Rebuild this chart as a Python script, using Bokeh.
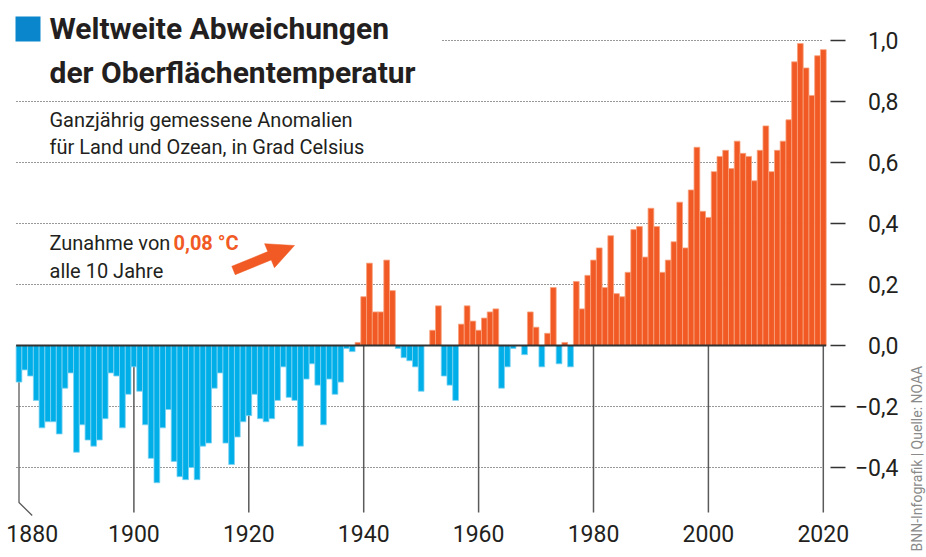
import numpy as np
from bokeh.plotting import figure
from bokeh.models import Range1d, ColumnDataSource
from bokeh.core.properties import value
from bokeh.embed import file_html
from bokeh.resources import INLINE

# ---------------- data ----------------
years = list(range(1880, 2021))
anomalies = [
    # 1880-1889
    -0.12, -0.08, -0.10, -0.18, -0.27, -0.25, -0.25, -0.29, -0.14, -0.09,
    # 1890-1899
    -0.35, -0.26, -0.31, -0.33, -0.31, -0.24, -0.09, -0.10, -0.27, -0.16,
    # 1900-1909
    -0.07, -0.15, -0.26, -0.37, -0.45, -0.27, -0.21, -0.38, -0.43, -0.44,
    # 1910-1919
    -0.40, -0.44, -0.33, -0.32, -0.14, -0.09, -0.32, -0.39, -0.30, -0.25,
    # 1920-1929
    -0.23, -0.16, -0.24, -0.25, -0.24, -0.18, -0.07, -0.17, -0.18, -0.33,
    # 1930-1939
    -0.11, -0.06, -0.13, -0.26, -0.11, -0.16, -0.12, -0.01, -0.02, 0.01,
    # 1940-1949
    0.16, 0.27, 0.11, 0.11, 0.28, 0.18, -0.01, -0.04, -0.05, -0.07,
    # 1950-1959
    -0.15, 0.00, 0.05, 0.13, -0.10, -0.13, -0.18, 0.07, 0.13, 0.08,
    # 1960-1969
    0.05, 0.09, 0.11, 0.12, -0.14, -0.07, -0.01, 0.00, -0.03, 0.11,
    # 1970-1979
    0.06, -0.07, 0.04, 0.19, -0.06, 0.01, -0.07, 0.21, 0.12, 0.23,
    # 1980-1989
    0.28, 0.32, 0.19, 0.36, 0.17, 0.16, 0.24, 0.38, 0.39, 0.29,
    # 1990-1999
    0.45, 0.39, 0.24, 0.28, 0.34, 0.47, 0.32, 0.51, 0.65, 0.44,
    # 2000-2009
    0.42, 0.57, 0.62, 0.64, 0.58, 0.67, 0.63, 0.62, 0.54, 0.64,
    # 2010-2020
    0.72, 0.57, 0.64, 0.67, 0.74, 0.93, 0.99, 0.91, 0.82, 0.95, 0.97,
]
assert len(anomalies) == len(years)

y_ticks = [1.0, 0.8, 0.6, 0.4, 0.2, 0.0, -0.2, -0.4]
y_tick_labels = ["1,0", "0,8", "0,6", "0,4", "0,2", "0,0", "\u22120,2", "\u22120,4"]
grid_values = [1.0, 0.8, 0.6, 0.4, 0.2, -0.2, -0.4]
x_ticks = [1880, 1900, 1920, 1940, 1960, 1980, 2000, 2020]
x_tick_labels = ["1880", "1900", "1920", "1940", "1960", "1980", "2000", "2020"]

title_lines = ["Weltweite Abweichungen", "der Oberflächentemperatur"]
subtitle_lines = ["Ganzjährig gemessene Anomalien", "für Land und Ozean, in Grad Celsius"]
note_prefix = "Zunahme von "
note_value = "0,08 °C"
note_line2 = "alle 10 Jahre"
source_text = "BNN-Infografik | Quelle: NOAA"

# ---------------- styling ----------------
ORANGE = "#f15a24"
ORANGE_EDGE = "#f8a27e"
BLUE = "#00aee8"
BLUE_EDGE = "#7dd3f2"
SQUARE_BLUE = "#0a86cd"
INK = "#231f20"
GREY = "#8a8a8a"
TEXT_FONT = value("Roboto")
NUM_FONT = value("Roboto")

W, H = 926, 557
X0_PX = 18.5          # canvas x of first bar centre
PX_PER_YEAR = 5.745
ZERO_PX = 345.0       # canvas y of zero line
PX_PER_UNIT = 305.0
BASELINE_FIX = 0.37   # em; compensates the renderer's baseline placement

x_start = years[0] - X0_PX / PX_PER_YEAR
x_end = x_start + W / PX_PER_YEAR
y_end = ZERO_PX / PX_PER_UNIT
y_start = y_end - H / PX_PER_UNIT


def dx(px):
    """canvas pixel x -> data x"""
    return x_start + px / PX_PER_YEAR


def dy(py):
    """canvas pixel y -> data y"""
    return y_end - py / PX_PER_UNIT


def base(py, size):
    """data y for a wanted baseline at canvas pixel py"""
    return dy(py - BASELINE_FIX * size)


p = figure(width=W, height=H, x_range=Range1d(x_start, x_end), y_range=Range1d(y_start, y_end),
           x_axis_type=None, y_axis_type=None, toolbar_location=None, output_backend="svg",
           min_border=0)
p.grid.visible = False
p.outline_line_color = None
p.background_fill_color = "white"
p.border_fill_color = "white"

# dotted grid lines
gx0 = [dx(442) if g == 1.0 else dx(16) for g in grid_values]
p.segment(x0=gx0, y0=grid_values, x1=[dx(822)] * len(grid_values), y1=grid_values,
          line_color="#333333", line_width=1.2, line_dash="1 2")

# decade vertical lines
bottom_val = dy(512)
vx = [t for t in x_ticks if t != x_ticks[0]]
p.segment(x0=vx, y0=[0] * len(vx), x1=vx, y1=[bottom_val] * len(vx),
          line_color="#5a5a5a", line_width=1.5)
p.line(x=[x_ticks[0], x_ticks[0], x_ticks[0] + 13.2 / PX_PER_YEAR],
       y=[0, dy(502), dy(515)], line_color="#5a5a5a", line_width=1.3)

# bars
pos = ColumnDataSource(dict(year=[y for y, v in zip(years, anomalies) if v > 0],
                            val=[v for v in anomalies if v > 0]))
neg = ColumnDataSource(dict(year=[y for y, v in zip(years, anomalies) if v < 0],
                            val=[v for v in anomalies if v < 0]))
p.vbar(x="year", top="val", bottom=0, width=1.0, source=pos,
       fill_color=ORANGE, line_color=ORANGE_EDGE, line_width=0.8)
p.vbar(x="year", top="val", bottom=0, width=1.0, source=neg,
       fill_color=BLUE, line_color=BLUE_EDGE, line_width=0.8)

# zero line
p.segment(x0=[years[0] - 0.5], y0=[0], x1=[years[-1] + 0.5], y1=[0],
          line_color="#333333", line_width=2)

# right ticks and labels
NUM_SIZE = 23
p.segment(x0=[dx(830)] * len(y_ticks), y0=y_ticks, x1=[dx(845)] * len(y_ticks), y1=y_ticks,
          line_color="#333333", line_width=1.5)
p.text(x=[dx(898)] * len(y_ticks),
       y=[t - (8.5 - BASELINE_FIX * NUM_SIZE) / PX_PER_UNIT for t in y_ticks], text=y_tick_labels,
       text_font=NUM_FONT, text_font_size=f"{NUM_SIZE}px", text_color=INK,
       text_align="right", text_baseline="alphabetic")

# x labels
lx = [t + (13.2 / PX_PER_YEAR if t == x_ticks[0] else 0) for t in x_ticks]
p.text(x=lx, y=[base(541.5, NUM_SIZE)] * len(x_ticks), text=x_tick_labels,
       text_font=NUM_FONT, text_font_size=f"{NUM_SIZE}px", text_color=INK,
       text_align="center", text_baseline="alphabetic")

# title block
p.quad(left=[dx(15)], right=[dx(40)], top=[dy(16)], bottom=[dy(41)],
       fill_color=SQUARE_BLUE, line_color=None)
p.text(x=[dx(49)] * 2, y=[base(39.5, 30), base(83, 30)], text=title_lines,
       text_font=TEXT_FONT, text_font_style="bold", text_font_size="30px", text_color=INK,
       text_align="left", text_baseline="alphabetic")
p.text(x=[dx(49)] * 2, y=[base(127, 20), base(153.5, 20)], text=subtitle_lines,
       text_font=TEXT_FONT, text_font_size="20px", text_color=INK,
       text_align="left", text_baseline="alphabetic")

# trend note
p.text(x=[dx(49), dx(49)], y=[base(249.5, 20), base(277.5, 20)], text=[note_prefix, note_line2],
       text_font=TEXT_FONT, text_font_size="20px", text_color=INK,
       text_align="left", text_baseline="alphabetic")
p.text(x=[dx(173)], y=[base(249.5, 20)], text=[note_value],
       text_font=TEXT_FONT, text_font_style="bold", text_font_size="20px", text_color=ORANGE,
       text_align="left", text_baseline="alphabetic")

# arrow
tail = np.array([233.0, 270.0])
tip = np.array([294.0, 245.0])
u = (tip - tail) / np.linalg.norm(tip - tail)
n = np.array([-u[1], u[0]])
head_base = tip - 27 * u
pts = [tail + 4.5 * n, head_base + 4.5 * n, head_base + 13 * n, tip,
       head_base - 13 * n, head_base - 4.5 * n, tail - 4.5 * n]
p.patch(x=[dx(q[0]) for q in pts], y=[dy(q[1]) for q in pts],
        fill_color=ORANGE, line_color=ORANGE, line_width=0.5)

# source (vertical)
p.text(x=[dx(922 - BASELINE_FIX * 14)], y=[dy(551)], text=[source_text], angle=np.pi / 2,
       text_font=TEXT_FONT, text_font_size="14px", text_color=GREY,
       text_align="left", text_baseline="alphabetic")

open("out.html", "w").write(file_html(p, INLINE))
